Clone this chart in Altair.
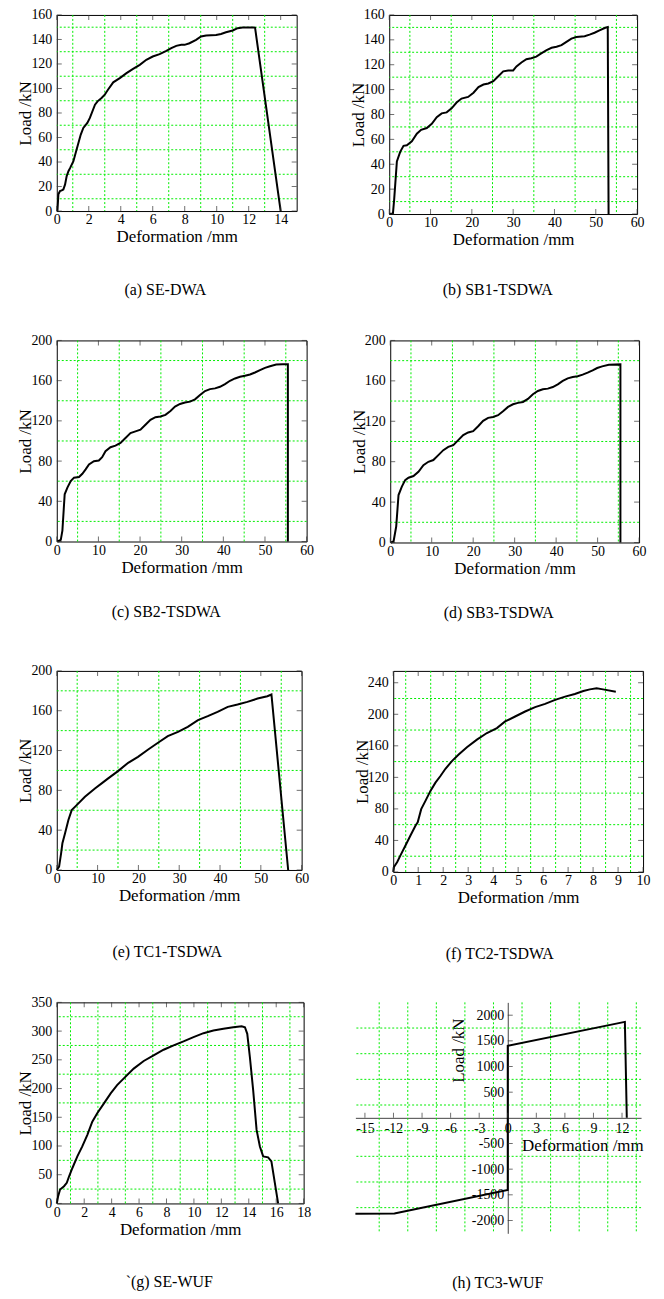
import altair as alt
import pandas as pd

FONT = "Liberation Serif"
GRID = "#00ee00"

# ---------------- data ----------------
a_x = [0, 0.04, 0.1, 0.2, 0.31, 0.41, 0.52, 0.62, 0.73, 0.83, 1.04, 1.24, 1.5, 1.66, 1.91, 2.07, 2.39, 2.55,
       2.8, 3.0, 3.2, 3.53, 3.94, 4.36, 4.77, 5.19, 5.6, 6.0, 6.43, 6.85, 7.16, 7.47, 7.78, 7.99, 8.3, 8.71,
       9.02, 9.34, 9.96, 10.27, 10.58, 11.0, 11.31, 11.62, 12.34, 12.4, 14.0]
a_y = [0, 0, 13.6, 16.3, 16.8, 17.6, 21.7, 28.5, 32.5, 35, 40.7, 50.2, 62.4, 67.8, 71.9, 76, 86.8, 89.5,
       92.2, 94.9, 99, 105, 108.5, 112.5, 116, 119.3, 123.4, 126.1, 128, 130.7, 132.9, 134.8, 135.6, 135.6,
       136.9, 139.7, 142.4, 143.2, 143.7, 144.5, 145.9, 147.3, 149.2, 149.7, 149.7, 149.5, 0]

b_x = [0, 0.9, 1.2, 1.85, 2.65, 3.46, 4.26, 5.47, 6.68, 7.72, 9.09, 10.3, 11.5, 12.7, 13.9, 15.1, 16.3, 17.5,
       19.1, 20.4, 21.6, 22.8, 24.0, 25.2, 26.4, 27.6, 28.8, 30.0, 30.8, 32.0, 33.2, 34.4, 35.6, 36.8, 38.1,
       39.3, 40.5, 41.7, 42.9, 44.1, 45.3, 47.3, 48.5, 49.7, 50.9, 52.3, 52.9, 53.1]
b_y = [0, 0.5, 12, 42.2, 50, 54.8, 55.3, 58.5, 64.6, 67.7, 69.1, 72.5, 77.8, 80.9, 81.7, 84.9, 89.6, 92.8,
       94.1, 97.5, 102, 104.1, 104.9, 106.7, 110.7, 114.7, 115.4, 115.4, 118.6, 121.8, 124.4, 125.2, 126.5,
       129.1, 131.8, 133.6, 134.4, 135.7, 138.4, 141, 142.3, 142.9, 144.2, 145.7, 147.6, 149.7, 150.2, 0]

c_x = [0.16, 0.96, 1.35, 1.9, 2.55, 3.35, 4.14, 5.34, 6.14, 6.93, 7.73, 8.92, 10.1, 10.9, 11.7, 12.9, 14.1,
       15.3, 16.5, 17.7, 18.9, 20.1, 21.3, 22.5, 23.7, 24.9, 26.1, 27.3, 28.4, 29.6, 30.8, 32.0, 33.2, 34.4,
       35.6, 36.8, 38.0, 39.2, 40.4, 41.6, 42.8, 44.0, 45.2, 46.4, 47.6, 48.8, 50.0, 51.2, 52.7, 54.3, 55.5, 55.5]
c_y = [0, 1.6, 10.9, 47, 53.6, 60.2, 63.5, 64.1, 67.4, 71.7, 76.6, 79.9, 80.6, 83.9, 89.8, 93.8, 95.4, 98,
       103, 107.9, 109.5, 111.2, 116.1, 121, 123.7, 124.3, 126, 129.9, 134.2, 136.8, 138.2, 139.1, 141.4,
       145.7, 149.7, 151.6, 152.3, 153.9, 156.6, 159.9, 162.2, 163.8, 164.8, 166.1, 168.1, 170.4, 172.7,
       174.3, 176, 176.3, 176.3, 0]

d_x = [0.16, 0.8, 1.44, 2.0, 2.8, 3.6, 4.4, 5.6, 6.8, 8.0, 9.2, 10.4, 11.6, 12.8, 14.0, 15.2, 16.4, 17.6,
       18.8, 20.0, 21.2, 22.4, 23.6, 24.8, 26.0, 27.2, 28.4, 29.6, 30.8, 32.0, 33.2, 34.4, 35.6, 36.8, 38.0,
       39.2, 40.4, 41.6, 42.8, 44.0, 45.2, 46.4, 47.6, 48.8, 49.9, 51.1, 52.7, 55.5, 55.5]
d_y = [0, 1, 15.8, 47, 55.3, 61.8, 64.1, 65.8, 70, 76.6, 79.9, 81.6, 86.5, 91.4, 94.7, 96.4, 101.3, 106.3,
       108.9, 110.2, 115.1, 120.4, 123.4, 124.3, 126, 130, 134.2, 136.8, 138.2, 139.1, 142.1, 146.7, 150,
       151.6, 152.3, 153.9, 156.6, 159.9, 162.5, 163.8, 164.5, 166.1, 168.1, 170.4, 172.7, 174.3, 176,
       176.3, 0]

e_x = [0, 0.57, 1.06, 1.38, 2.03, 2.85, 3.66, 4.88, 6.9, 9.35, 11.0, 12.6, 15.0, 17.5, 19.9, 22.4, 24.8,
       27.2, 29.7, 32.1, 34.6, 37.0, 39.4, 41.9, 44.3, 46.7, 49.2, 51.6, 52.6, 56.7]
e_y = [0, 3.3, 16.7, 26.8, 36.8, 50.2, 60.2, 65.2, 73.6, 81.9, 87, 92, 99.3, 107.7, 113.7, 121, 127.8,
       134.4, 138.8, 143.8, 150.5, 154.5, 158.9, 163.9, 166.2, 168.9, 172.2, 174.6, 176.3, 0]

f_x = [0, 0.03, 0.16, 0.29, 0.49, 0.69, 0.89, 0.98, 1.12, 1.29, 1.49, 1.69, 1.89, 2.09, 2.35, 2.62, 2.95,
       3.35, 3.75, 4.15, 4.48, 4.88, 5.28, 5.68, 6.08, 6.48, 6.88, 7.27, 7.61, 7.87, 8.14, 8.40, 8.91]
f_y = [0, 6.3, 12.6, 21, 33.6, 46.2, 58.7, 63, 79.7, 90.2, 102.8, 113.3, 121.7, 130.9, 140.6, 149, 158.2,
       167.9, 176.2, 182.5, 190.9, 197.2, 203.5, 209, 213.2, 218.2, 222.4, 225.8, 229.5, 231.6, 232.9,
       231.6, 228.7]

g_x = [0, 0.1, 0.24, 0.53, 0.73, 0.9, 1.14, 1.5, 1.86, 2.23, 2.59, 2.95, 3.44, 3.93, 4.4, 5.0, 5.61, 6.34,
       7.06, 7.79, 8.52, 9.24, 9.97, 10.7, 11.42, 12.15, 12.87, 13.48, 13.72, 13.89, 14.08, 14.32, 14.57,
       14.81, 15.05, 15.41, 15.65, 15.9, 16.14]
g_y = [0, 12.7, 24.2, 30, 35.8, 47.3, 61.7, 81.9, 99.2, 119.4, 142.4, 156.9, 174.2, 191.5, 205.9, 220.3,
       234.7, 248, 257.8, 267.6, 275.1, 282, 289.5, 296.4, 301, 303.9, 306.8, 308.5, 306.8, 295.3, 254.9,
       197.2, 128, 99.2, 81.9, 80.2, 73.2, 35.8, 0]

h_x = [-16, -11.9, 0, 0, 12.3, 12.5]
h_y = [-1870, -1862, -1405, 1403, 1870, 0]

# axis tick values and gridline values
ticks_x15 = [0, 2, 4, 6, 8, 10, 12, 14]
grid_x15 = [1, 3, 5, 7, 9, 11, 13]
ticks_x60 = [0, 10, 20, 30, 40, 50, 60]
grid_x60 = [5, 15, 25, 35, 45, 55]
ticks_x10 = [0, 1, 2, 3, 4, 5, 6, 7, 8, 9, 10]
grid_x10 = [0.5, 1.5, 2.5, 3.5, 4.5, 5.5, 6.5, 7.5, 8.5, 9.5]
ticks_x18 = [0, 2, 4, 6, 8, 10, 12, 14, 16, 18]
grid_x18 = [1, 3, 5, 7, 9, 11, 13, 15, 17]
ticks_xh = [-15, -12, -9, -6, -3, 0, 3, 6, 9, 12]
grid_xh = [-13.5, -10.5, -7.5, -4.5, -1.5, 1.5, 4.5, 7.5, 10.5, 13.5]

ticks_y160 = [0, 20, 40, 60, 80, 100, 120, 140, 160]
grid_y160 = [10, 30, 50, 70, 90, 110, 130, 150]
ticks_y200 = [0, 40, 80, 120, 160, 200]
grid_y200 = [20, 60, 100, 140, 180]
ticks_y240 = [0, 40, 80, 120, 160, 200, 240]
grid_y240 = [20, 60, 100, 140, 180, 220]
ticks_y350 = [0, 50, 100, 150, 200, 250, 300, 350]
grid_y350 = [25, 75, 125, 175, 225, 275, 325]
ticks_yh = [-2000, -1500, -1000, -500, 500, 1000, 1500, 2000]
grid_yh = [-1750, -1250, -750, -250, 250, 750, 1250, 1750]

LABEL = "'' + datum.value"
AX = dict(labelFont=FONT, titleFont=FONT, labelFontSize=14, titleFontSize=17,
          labelColor="black", titleColor="black", titleFontWeight="normal",
          labelFlush=False, labelOverlap=False, labelExpr=LABEL, grid=False, ticks=False)


def build(xv, yv, xs, ys, xaxis, yaxis, xgrid, ygrid, tick_specs):
    X = lambda f: alt.X(f, scale=xs, axis=xaxis)
    Y = lambda f: alt.Y(f, scale=ys, axis=yaxis)
    layers = []
    layers.append(alt.Chart(pd.DataFrame({"x": xgrid})).mark_rule(
        color=GRID, strokeWidth=1, strokeDash=[2, 2]).encode(x=X("x:Q")))
    layers.append(alt.Chart(pd.DataFrame({"y": ygrid})).mark_rule(
        color=GRID, strokeWidth=1, strokeDash=[2, 2]).encode(y=Y("y:Q")))
    df = pd.DataFrame({"x": xv, "y": yv, "i": list(range(len(xv)))})
    layers.append(alt.Chart(df).mark_line(color="black", strokeWidth=2).encode(
        x=X("x:Q"), y=Y("y:Q"), order=alt.Order("i:Q")))
    for (tx, ty, orient, xo, yo) in tick_specs:
        layers.append(alt.Chart(pd.DataFrame({"x": tx, "y": ty})).mark_tick(
            orient=orient, size=5, thickness=1, color="#333", xOffset=xo, yOffset=yo).encode(
            x=X("x:Q"), y=Y("y:Q")))
    return alt.layer(*layers)


def caption_title(caption, dx, off):
    return alt.TitleParams(text=caption, orient="bottom", anchor="middle", frame="group",
                           offset=off, dx=dx, fontSize=16, font=FONT, fontWeight="normal",
                           color="black")


def panel(xv, yv, xdom, ydom, xticks, yticks, xgrid, ygrid, W, H, caption, dx, off):
    xs = alt.Scale(domain=xdom, nice=False, zero=False)
    ys = alt.Scale(domain=ydom, nice=False, zero=False)
    xaxis = alt.Axis(values=xticks, title="Deformation /mm", domain=False,
                     labelPadding=2, titlePadding=2, **AX)
    yaxis = alt.Axis(values=yticks, title="Load /kN", domain=False,
                     labelPadding=5, titlePadding=0, titleBaseline="alphabetic", **AX)
    nx, ny = len(xticks), len(yticks)
    specs = [
        (xticks, [ydom[0]] * nx, "vertical", 0, -2.5),
        (xticks, [ydom[1]] * nx, "vertical", 0, 2.5),
        ([xdom[0]] * ny, yticks, "horizontal", 2.5, 0),
        ([xdom[1]] * ny, yticks, "horizontal", -2.5, 0),
    ]
    return build(xv, yv, xs, ys, xaxis, yaxis, xgrid, ygrid, specs).properties(
        width=W, height=H, title=caption_title(caption, dx, off))


def panel_h(xv, yv, xdom, ydom, xticks, yticks, xgrid, ygrid, W, H, caption, dx, off):
    xs = alt.Scale(domain=xdom, nice=False, zero=False)
    ys = alt.Scale(domain=ydom, nice=False, zero=False)
    x_off = -H * (0 - ydom[0]) / (ydom[1] - ydom[0])
    y_off = -W * (0 - xdom[0]) / (xdom[1] - xdom[0])
    xaxis = alt.Axis(values=xticks, title="Deformation /mm", domain=True, domainColor="#444",
                     labelPadding=4, offset=x_off, titleX=228, titleY=33,
                     titleBaseline="alphabetic", titleAlign="center", **AX)
    yaxis = alt.Axis(values=yticks, title="Load /kN", domain=True, domainColor="#444",
                     labelPadding=4, offset=y_off, titleX=-44, titleY=48,
                     titleBaseline="alphabetic", titleAlign="center", **AX)
    specs = [
        (xticks, [0] * len(xticks), "vertical", 0, -2.5),
        ([0] * len(yticks), yticks, "horizontal", 2.5, 0),
    ]
    return build(xv, yv, xs, ys, xaxis, yaxis, xgrid, ygrid, specs).properties(
        width=W, height=H, view=alt.ViewBackground(stroke="transparent"),
        title=caption_title(caption, dx, off))


pa = panel(a_x, a_y, [0, 15], [0, 160], ticks_x15, ticks_y160, grid_x15, grid_y160, 241, 197,
           "(a) SE-DWA", -11.5, 37)
pb = panel(b_x, b_y, [0, 60], [0, 160], ticks_x60, ticks_y160, grid_x60, grid_y160, 249, 200,
           "(b) SB1-TSDWA", -15.5, 34)
pc = panel(c_x, c_y, [0, 60], [0, 200], ticks_x60, ticks_y200, grid_x60, grid_y200, 251, 202,
           "(c) SB2-TSDWA", -15.5, 29)
pd_ = panel(d_x, d_y, [0, 60], [0, 200], ticks_x60, ticks_y200, grid_x60, grid_y200, 250, 203,
            "(d) SB3-TSDWA", -16, 29)
pe = panel(e_x, e_y, [0, 60], [0, 200], ticks_x60, ticks_y200, grid_x60, grid_y200, 246, 200,
           "(e) TC1-TSDWA", -12, 40)
pf = panel(f_x, f_y, [0, 10], [0, 255], ticks_x10, ticks_y240, grid_x10, grid_y240, 251, 202,
           "(f) TC2-TSDWA", -18.5, 40)
pg = panel(g_x, g_y, [0, 18], [0, 350], ticks_x18, ticks_y350, grid_x18, grid_y350, 248, 202,
           "`(g) SE-WUF", -11, 37)
ph = panel_h(h_x, h_y, [-16, 14], [-2250, 2250], ticks_xh, ticks_yh, grid_xh, grid_yh, 287, 232,
             "(h) TC3-WUF", -0.5, 41)

row1 = alt.hconcat(pa, pb, spacing=51)
row2 = alt.hconcat(pc, pd_, spacing=35)
row3 = alt.hconcat(pe, pf, spacing=43)
row4 = alt.hconcat(pg, ph, spacing=39)

chart = alt.vconcat(row1, alt.vconcat(row2, alt.vconcat(row3, row4, spacing=32), spacing=41),
                    spacing=34).properties(
    padding={"left": 8, "top": -4, "right": 5, "bottom": 0},
    background="white",
).configure_view(stroke="black", strokeWidth=1).configure_title(font=FONT)

chart.save("out.html", embed_options={"renderer": "svg", "actions": False})
